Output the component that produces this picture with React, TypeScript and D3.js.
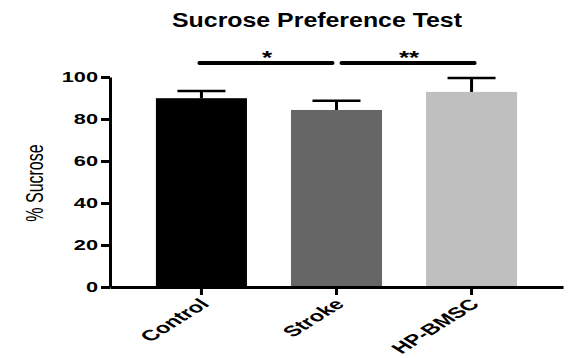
import React, { useEffect, useRef } from "react";
import * as d3 from "d3";

const groups = ["Control", "Stroke", "HP-BMSC"];
const means = [89.9, 84.3, 92.9];
const errors = [3.4, 4.4, 6.6];
const barColors = ["#000000", "#666666", "#bfbfbf"];
const yTicks = [0, 20, 40, 60, 80, 100];
const comparisons = [
  { from: "Control", to: "Stroke", label: "*" },
  { from: "Stroke", to: "HP-BMSC", label: "**" },
];

const W = 568;
const H = 358;
// the original figure is stretched sideways, so text gets the same stretch
const SX = 1.45;

const App = () => {
  const ref = useRef<SVGSVGElement>(null);

  useEffect(() => {
    const svg = d3.select(ref.current);
    svg.selectAll("*").remove();

    const left = 110;
    const right = 563;
    const bottom = 287;
    const top = 77;
    const font = "'Liberation Sans', Arial, Helvetica, sans-serif";

    const x = d3
      .scaleBand()
      .domain(groups)
      .range([left, right])
      .paddingInner(0.326)
      .paddingOuter(0.34);
    const y = d3.scaleLinear().domain([0, 100]).range([bottom, top]);

    // title
    svg
      .append("text")
      .attr("x", 317)
      .attr("y", 27)
      .attr("text-anchor", "middle")
      .attr("font-family", font)
      .attr("font-weight", "bold")
      .attr("font-size", 20)
      .attr("textLength", 290)
      .attr("lengthAdjust", "spacingAndGlyphs")
      .text("Sucrose Preference Test");

    // bars
    svg
      .selectAll("rect.bar")
      .data(groups)
      .enter()
      .append("rect")
      .attr("class", "bar")
      .attr("x", (d) => x(d)!)
      .attr("width", x.bandwidth())
      .attr("y", (d, i) => y(means[i]))
      .attr("height", (d, i) => y(0) - y(means[i]))
      .attr("fill", (d, i) => barColors[i]);

    // error bars (upper only)
    groups.forEach((g, i) => {
      const cx = x(g)! + x.bandwidth() / 2;
      svg
        .append("line")
        .attr("x1", cx)
        .attr("x2", cx)
        .attr("y1", y(means[i]))
        .attr("y2", y(means[i] + errors[i]))
        .attr("stroke", "#000")
        .attr("stroke-width", 3);
      svg
        .append("line")
        .attr("x1", cx - 24)
        .attr("x2", cx + 24)
        .attr("y1", y(means[i] + errors[i]))
        .attr("y2", y(means[i] + errors[i]))
        .attr("stroke", "#000")
        .attr("stroke-width", 2.5);
    });

    // y axis
    const yAxis = svg
      .append("g")
      .attr("transform", `translate(${left},0)`)
      .call(d3.axisLeft(y).tickValues(yTicks).tickSize(9).tickSizeOuter(0));
    yAxis.select(".domain").attr("stroke-width", 3);
    yAxis.selectAll(".tick line").attr("stroke-width", 3);
    yAxis
      .selectAll(".tick text")
      .attr("font-family", font)
      .attr("font-weight", "bold")
      .attr("font-size", 15)
      .attr("x", 0)
      .attr("transform", `translate(-12,0) scale(${SX},1)`)
      .attr("fill", "#000");

    // x axis
    const xAxis = svg
      .append("g")
      .attr("transform", `translate(0,${bottom})`)
      .call(d3.axisBottom(x).tickSize(8).tickSizeOuter(0));
    xAxis.select(".domain").attr("stroke-width", 3);
    xAxis.selectAll(".tick line").attr("stroke-width", 3);
    xAxis
      .selectAll(".tick text")
      .attr("font-family", font)
      .attr("font-weight", "bold")
      .attr("font-size", 15)
      .attr("fill", "#000")
      .attr("text-anchor", "end")
      .attr("dy", null)
      .attr("y", 0)
      .attr("transform", `translate(9,18) scale(1.6,1) rotate(-45)`);

    // y label
    svg
      .append("text")
      .attr("transform", `translate(43,183) scale(${SX},1) rotate(-90)`)
      .attr("text-anchor", "middle")
      .attr("font-family", font)
      .attr("font-size", 16)
      .text("% Sucrose");

    // significance bars
    comparisons.forEach((c, i) => {
      const x1 = x(c.from)! + x.bandwidth() / 2 + (i === 0 ? -2 : 5);
      const x2 = x(c.to)! + x.bandwidth() / 2 + (i === 0 ? -4 : 3);
      const ly = 63;
      svg
        .append("line")
        .attr("x1", x1)
        .attr("x2", x2)
        .attr("y1", ly)
        .attr("y2", ly)
        .attr("stroke", "#000")
        .attr("stroke-width", 4)
        .attr("stroke-linecap", "round");
      svg
        .append("text")
        .attr("transform", `translate(${(x1 + x2) / 2 + 1},64) scale(${SX},1)`)
        .attr("text-anchor", "middle")
        .attr("font-family", font)
        .attr("font-weight", "bold")
        .attr("font-size", 18)
        .text(c.label);
    });
  }, []);

  return (
    <svg
      ref={ref}
      width={W}
      height={H}
      style={{ position: "absolute", left: 0, top: 0, background: "#fff" }}
    />
  );
};

export default App;
